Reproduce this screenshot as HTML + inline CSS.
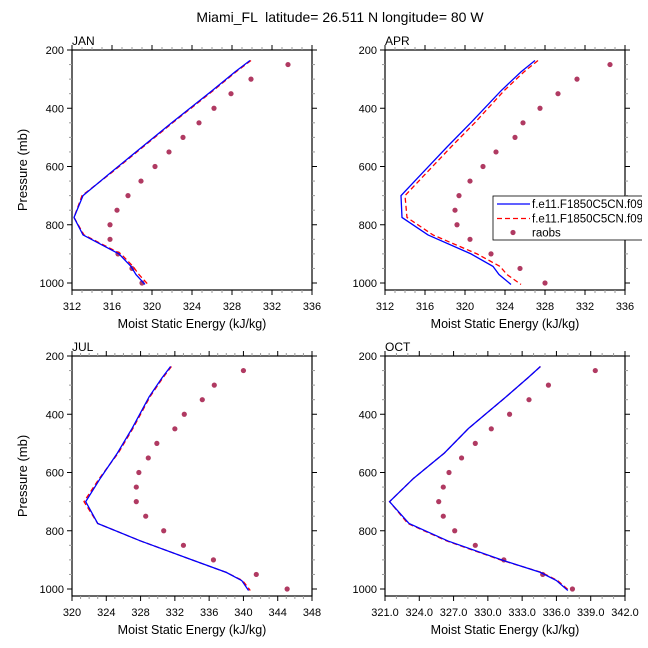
<!DOCTYPE html>
<html><head><meta charset="utf-8"><style>
body{margin:0;background:#fff}
svg{display:block;font-family:"Liberation Sans",sans-serif}
</style></head><body>
<svg id="c" width="648" height="648"></svg>
<script>
const panelNames=["JAN","APR","JUL","OCT"];
const modelP=[236,275,340,449,533,620,700,775,835,900,943,971,1005];
const obsP=[250,300,350,400,450,500,550,600,650,700,750,800,850,900,950,1000];
const janBlue=[329.8,328.3,326.0,322.0,319.0,315.9,313.1,312.2,313.1,316.7,317.9,318.4,319.3];
const janRed=[329.9,328.4,326.1,322.1,319.1,316.0,313.0,312.2,313.2,316.9,318.1,318.7,319.6];
const aprBlue=[327.0,325.6,323.6,320.6,318.2,315.8,313.6,313.7,316.3,320.6,322.8,323.4,324.6];
const aprRed=[327.3,325.9,323.9,321.0,318.6,316.2,314.0,314.2,316.8,321.2,323.5,324.2,325.6];
const julBlue=[331.5,330.5,329.0,327.0,325.3,323.3,321.6,323.0,328.0,334.0,338.0,339.8,340.6];
const julRed=[331.6,330.6,329.1,327.1,325.4,323.2,321.4,323.0,328.0,334.0,338.0,339.9,340.8];
const octBlue=[334.6,333.5,331.6,328.3,326.2,323.5,321.4,323.1,326.5,331.2,334.6,336.0,337.0];
const octRed=[334.6,333.5,331.6,328.3,326.2,323.5,321.4,323.0,326.4,331.1,334.7,336.1,337.1];
const janObs=[333.6,329.9,327.9,326.2,324.7,323.1,321.7,320.3,318.9,317.6,316.5,315.8,315.8,316.6,318.0,319.0];
const aprObs=[334.5,331.2,329.3,327.5,325.8,325.0,323.1,321.8,320.5,319.4,319.0,319.2,320.5,322.6,325.5,328.0];
const julObs=[340.0,336.6,335.2,333.1,332.0,329.9,328.9,327.8,327.5,327.5,328.6,330.7,333.0,336.5,341.5,345.1];
const octObs=[339.4,335.3,333.6,331.9,330.3,328.9,327.7,326.6,326.1,325.7,326.1,327.1,328.9,331.4,334.8,337.4];
const xTicksTop=[312,316,320,324,328,332,336];
const xTicksJul=[320,324,328,332,336,340,344,348];
const xTicksOct=[321,324,327,330,333,336,339,342];
const yTicks=[200,400,600,800,1000];
const legendLabels=["f.e11.F1850C5CN.f09","f.e11.F1850C5CN.f09","raobs"];

const svg=document.getElementById('c');
const NS='http://www.w3.org/2000/svg';
function mk(t,a,p){const e=document.createElementNS(NS,t);for(const k in a)e.setAttribute(k,a[k]);(p||svg).appendChild(e);return e;}
function txt(s,a,p){const e=mk('text',a,p);e.textContent=s;return e;}

const t=txt("Miami_FL  latitude= 26.511 N longitude= 80 W",{x:340,y:22,'font-size':14,'text-anchor':'middle',style:'white-space:pre'});



const panels=[
 {x0:72,y0:50,xmin:312,xmax:336,ticks:xTicksTop,minor:1,dec:0,blue:janBlue,red:janRed,obs:janObs},
 {x0:385,y0:50,xmin:312,xmax:336,ticks:xTicksTop,minor:1,dec:0,blue:aprBlue,red:aprRed,obs:aprObs},
 {x0:72,y0:356,xmin:320,xmax:348,ticks:xTicksJul,minor:1,dec:0,blue:julBlue,red:julRed,obs:julObs},
 {x0:385,y0:356,xmin:321,xmax:342,ticks:xTicksOct,minor:1,dec:1,blue:octBlue,red:octRed,obs:octObs}
];
const W=240,H=240,PMIN=200,PMAX=1024;
panels.forEach((pp,i)=>{
 const g=mk('g',{});
 
 
 const X=v=>pp.x0+(v-pp.xmin)/(pp.xmax-pp.xmin)*W;
 const Y=p=>pp.y0+(p-PMIN)/(PMAX-PMIN)*H;
 const fr=mk('rect',{x:pp.x0,y:pp.y0,width:W,height:H,fill:'none',stroke:'#000','stroke-width':1.2},g);
 
 
 for(let v=pp.xmin;v<=pp.xmax+1e-6;v+=pp.minor){
  const x=X(v),maj=pp.ticks.some(k=>Math.abs(k-v)<1e-6),L=maj?5:3;
  mk('line',{x1:x,x2:x,y1:pp.y0+H,y2:pp.y0+H+L,stroke:maj?'#000':'#999'},g);
  mk('line',{x1:x,x2:x,y1:pp.y0,y2:pp.y0-L,stroke:maj?'#000':'#999'},g);
 }
 pp.ticks.forEach(v=>{const l=txt(v.toFixed(pp.dec),{x:X(v),y:pp.y0+H+20,'font-size':11,'text-anchor':'middle'},g);
  });
 for(let p=200;p<=1000;p+=50){
  const y=Y(p),maj=p%200===0,L=maj?5:3;
  mk('line',{x1:pp.x0,x2:pp.x0-L,y1:y,y2:y,stroke:maj?'#000':'#999'},g);
  mk('line',{x1:pp.x0+W,x2:pp.x0+W+L,y1:y,y2:y,stroke:maj?'#000':'#999'},g);
 }
 yTicks.forEach(p=>{const l=txt(String(p),{x:pp.x0-8,y:Y(p)+4,'font-size':11,'text-anchor':'end'},g);
  });
 const pl=txt(panelNames[i],{x:pp.x0,y:pp.y0-5,'font-size':12},g);
 
 const xt=txt("Moist Static Energy (kJ/kg)",{x:pp.x0+W/2,y:pp.y0+H+38,'font-size':12.5,'text-anchor':'middle'},g);
 
 if(i%2===0){const yt=txt("Pressure (mb)",{x:0,y:0,'font-size':13,'text-anchor':'middle',transform:`translate(27,${pp.y0+H/2}) rotate(-90)`},g);
  }
 pp.obs.forEach((v,k)=>{const c=mk('circle',{cx:X(v),cy:Y(obsP[k]),r:2.6,fill:'#b03a62'},g);
  });
 const rd=mk('polyline',{points:pp.red.map((v,k)=>X(v)+','+Y(modelP[k])).join(' '),fill:'none',stroke:'#ff0000','stroke-width':1.3,'stroke-dasharray':'5,3'},g);
 
 const bl=mk('polyline',{points:pp.blue.map((v,k)=>X(v)+','+Y(modelP[k])).join(' '),fill:'none',stroke:'#0000ff','stroke-width':1.3},g);
 
});
const lg=mk('g',{});


mk('rect',{x:493,y:196,width:160,height:44,fill:'#fff',stroke:'#000','stroke-width':0.8},lg);
const ly=[204,218.5,232.5];
mk('line',{x1:497,x2:530,y1:ly[0],y2:ly[0],stroke:'#0000ff','stroke-width':1.3},lg);
mk('line',{x1:497,x2:530,y1:ly[1],y2:ly[1],stroke:'#ff0000','stroke-width':1.3,'stroke-dasharray':'5,3'},lg);
mk('circle',{cx:513,cy:ly[2],r:2.6,fill:'#b03a62'},lg);
legendLabels.forEach((s,k)=>{const e=txt(s,{x:532,y:ly[k]+4,'font-size':11.5},lg);
 });
// clip region right of 642
mk('rect',{x:642,y:0,width:6,height:648,fill:'#fff'});
</script>
</body></html>
